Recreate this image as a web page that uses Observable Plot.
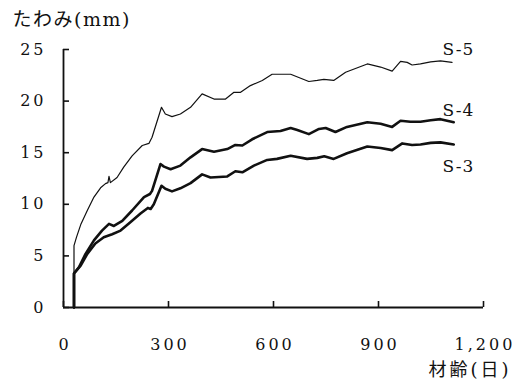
<!DOCTYPE html>
<html>
<head>
<meta charset="utf-8">
<script src="https://cdn.jsdelivr.net/npm/d3@7"></script>
<script src="https://cdn.jsdelivr.net/npm/@observablehq/plot@0.6"></script>
<style>
  html, body { margin: 0; padding: 0; background: #fff; }
</style>
</head>
<body>
<div id="chart"></div>
<script>
// ---- data ----
const days5 = [30,30,37,50,68,87,106,120,127,130,134,153,172,196,225,244,253,280,291,310,334,363,396,430,463,487,506,534,568,596,649,701,725,744,772,806,868,906,939,963,982,996,1020,1049,1077,1110];
const s5    = [0,6.0,6.8,8.1,9.4,10.7,11.6,12.0,12.1,12.7,12.1,12.6,13.6,14.7,15.7,15.9,16.5,19.4,18.75,18.5,18.75,19.4,20.7,20.2,20.2,20.85,20.85,21.5,22.0,22.6,22.6,21.9,22.0,22.1,22.0,22.8,23.6,23.3,22.9,23.85,23.75,23.5,23.6,23.8,23.9,23.75];

const days4 = [30,30,44,63,87,110,130,144,168,196,230,247,253,277,287,306,334,363,396,430,468,491,511,539,582,620,649,668,701,730,749,777,810,868,906,939,963,991,1020,1049,1077,1115];
const s4    = [0,3.3,3.9,5.2,6.5,7.45,8.1,7.9,8.4,9.4,10.7,11.0,11.3,13.9,13.65,13.4,13.75,14.55,15.35,15.1,15.35,15.75,15.7,16.3,17.0,17.1,17.4,17.2,16.8,17.3,17.4,17.0,17.5,17.95,17.8,17.5,18.1,18.0,18.0,18.15,18.25,17.95];

const days3 = [30,30,49,68,91,115,139,163,191,220,241,249,258,280,291,310,334,363,396,420,468,491,511,544,582,610,649,696,725,745,772,810,868,906,939,968,996,1020,1049,1077,1115];
const s3    = [0,3.3,4.05,5.2,6.2,6.8,7.1,7.45,8.25,9.1,9.65,9.55,10.0,11.8,11.5,11.25,11.55,12.05,12.9,12.6,12.7,13.2,13.1,13.75,14.3,14.4,14.7,14.4,14.5,14.65,14.4,14.95,15.6,15.45,15.25,15.9,15.75,15.8,15.95,16.0,15.8];

const seriesNames = ["S-5", "S-4", "S-3"];
const labelX = [1128, 1128, 1128];
const labelY = [25.0, 19.1, 13.7];

const xTicks = [0, 300, 600, 900, 1200];
const xTickLabels = ["0", "300", "600", "900", "1,200"];
const yTicks = [0, 5, 10, 15, 20, 25];
const yTickLabels = ["0", "5", "10", "15", "20", "25"];

const titleText = "たわみ(mm)";
const xLabelText = "材齢(日)";

// ---- build tables ----
const toRows = (days, vals) => days.map((d, i) => ({day: d, v: vals[i]}));
const rows5 = toRows(days5, s5);
const rows4 = toRows(days4, s4);
const rows3 = toRows(days3, s3);
const labels = seriesNames.map((n, i) => ({name: n, x: labelX[i], y: labelY[i]}));

const W = 527, H = 381;
const mL = 63, mR = 44, mT = 49, mB = 74;
const frameW = W - mL - mR, frameH = H - mT - mB;

const serif = "'DejaVu Serif', 'Liberation Serif', serif";
const cjk = "'DejaVu Serif', 'Noto Sans CJK JP', sans-serif";

const chart = Plot.plot({
  width: W,
  height: H,
  marginLeft: mL,
  marginRight: mR,
  marginTop: mT,
  marginBottom: mB,
  style: {background: "#fff", color: "#111", fontFamily: serif, fontSize: "16px", overflow: "visible"},
  x: {domain: [0, 1200]},
  y: {domain: [0, 25]},
  marks: [
    Plot.axisY({ticks: yTicks, tickSize: 0, tickPadding: 17, tickFormat: (d) => yTickLabels[yTicks.indexOf(d)], fontSize: 16, fontFamily: serif, fill: "#111"}),
    Plot.axisX({ticks: xTicks, tickSize: 0, tickPadding: 31, tickFormat: (d) => xTickLabels[xTicks.indexOf(d)], fontSize: 16, fontFamily: serif, fill: "#111", dx: 1.5}),
    Plot.tickY(yTicks, {y: d => d, insetRight: frameW - 6, stroke: "#111", strokeWidth: 1.6}),
    Plot.tickX(xTicks, {x: d => d, insetTop: frameH - 6, stroke: "#111", strokeWidth: 1.6}),
    Plot.ruleY([0], {stroke: "#111", strokeWidth: 1.8}),
    Plot.ruleX([0], {stroke: "#111", strokeWidth: 1.8}),
    Plot.line(rows5, {x: "day", y: "v", stroke: "#111", strokeWidth: 1.2, strokeLinejoin: "round"}),
    Plot.line(rows4, {x: "day", y: "v", stroke: "#111", strokeWidth: 2.6, strokeLinejoin: "round"}),
    Plot.line(rows3, {x: "day", y: "v", stroke: "#111", strokeWidth: 2.6, strokeLinejoin: "round"}),
    Plot.text(labels, {x: "x", y: "y", text: "name", fontSize: 17, fontFamily: serif, fill: "#111"}),
    Plot.text([titleText], {frameAnchor: "top-left", dx: 12 - mL, dy: 19 - mT, textAnchor: "start", lineAnchor: "middle", fontSize: 19, fontFamily: cjk, fill: "#111"}),
    Plot.text([xLabelText], {frameAnchor: "bottom-right", dx: 508 - (W - mR) + 3, dy: 370 - (H - mB), textAnchor: "end", lineAnchor: "middle", fontSize: 18, fontFamily: cjk, fill: "#111"})
  ]
});

// letter spacing tweaks (style only)
chart.querySelectorAll('g[aria-label="y-axis tick label"], g[aria-label="x-axis tick label"]').forEach(g => g.setAttribute("letter-spacing", "3px"));
const textGroups = chart.querySelectorAll('g[aria-label="text"]');
if (textGroups[0]) textGroups[0].setAttribute("letter-spacing", "1px");
if (textGroups[1]) textGroups[1].setAttribute("letter-spacing", "1.5px");
if (textGroups[2]) textGroups[2].setAttribute("letter-spacing", "3px");

document.getElementById("chart").appendChild(chart);
</script>
</body>
</html>
